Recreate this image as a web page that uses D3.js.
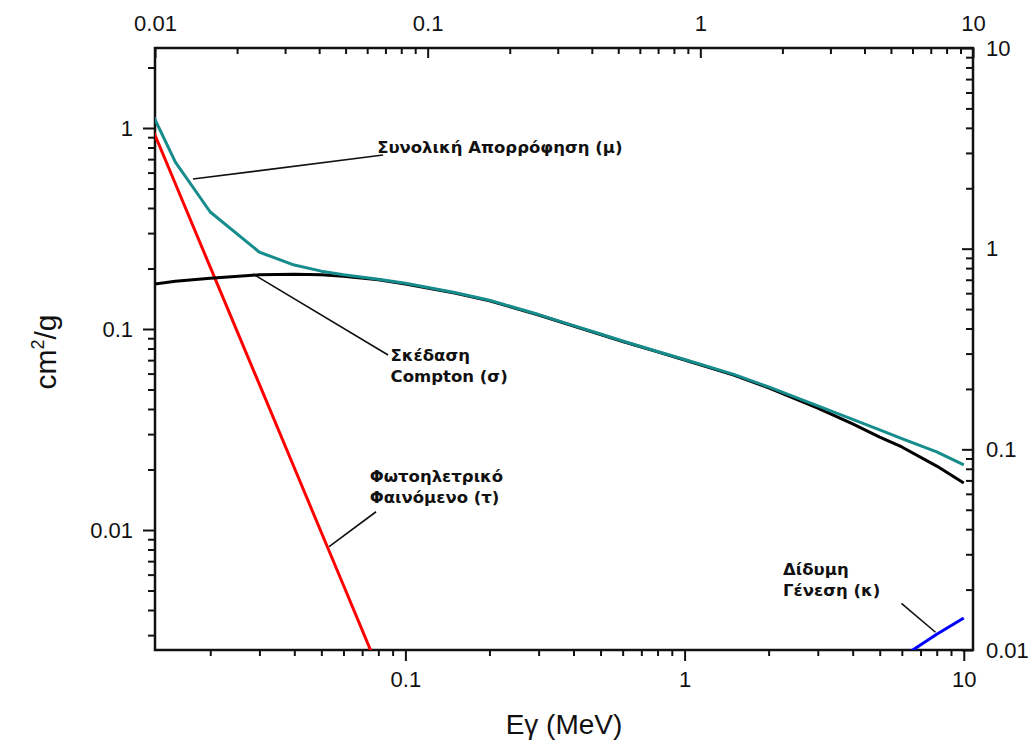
<!DOCTYPE html>
<html>
<head>
<meta charset="utf-8">
<script src="https://cdn.jsdelivr.net/npm/d3@7"></script>
<style>
  body { margin: 0; background: #fff; }
  .tick text { font-family: "Liberation Sans", Arial, sans-serif; font-size: 22px; fill: #111; }
  .note { font-family: "DejaVu Sans", Verdana, sans-serif; font-weight: bold; font-size: 16.5px; fill: #111; }
</style>
</head>
<body>
<div id="chart"></div>
<script>
// energies (MeV)
var energy = [0.01, 0.015, 0.02, 0.03, 0.04, 0.05, 0.06, 0.08, 0.1, 0.15, 0.2, 0.3, 0.4, 0.5, 0.6, 0.8, 1, 1.5, 2, 3, 4, 5, 6, 8, 10];
// total absorption (mu), cm2/g
var total = [2.2, 0.677, 0.382, 0.241, 0.208, 0.194, 0.186, 0.177, 0.169, 0.152, 0.139, 0.118, 0.104, 0.0945, 0.0872, 0.0773, 0.0705, 0.0595, 0.0515, 0.0415, 0.0355, 0.0315, 0.0285, 0.0245, 0.0211];
// compton scattering (sigma)
var compton = [0.160, 0.173, 0.179, 0.186, 0.187, 0.186, 0.183, 0.176, 0.1675, 0.151, 0.138, 0.1174, 0.1035, 0.0939, 0.0867, 0.0769, 0.0701, 0.059, 0.0509, 0.0404, 0.0337, 0.029, 0.0259, 0.0208, 0.01714];
// photoelectric (tau)
var photoEnergy = [0.01, 0.015, 0.02, 0.03, 0.04, 0.05, 0.06, 0.08];
var photo = [2.03, 0.528, 0.203, 0.053, 0.0204, 0.00972, 0.00531, 0.00204];
// pair production (kappa)
var pairEnergy = [5, 6, 8, 10];
var pair = [0.0019, 0.00233, 0.00303, 0.00365];

var majorTicks = [0.01, 0.1, 1, 10];
var leftMajor = [0.01, 0.1, 1];

var svgWidth = 1035;
var svgHeight = 747;
var plotLeft = 155, plotRight = 973, plotTop = 48, plotBottom = 650;

// minor ticks 2..9 for every decade
function minors(lo, hi) {
  var out = [];
  for (var p = lo; p < hi; p++) {
    for (var k = 2; k <= 9; k++) out.push(+(k * Math.pow(10, p)).toPrecision(3));
  }
  return out;
}

var x = d3.scaleLog().domain([0.01268, 10.79]).range([plotLeft, plotRight]);
var xTop = d3.scaleLog().domain([0.01, 10]).range([plotLeft, plotRight]);
var y = d3.scaleLog().domain([0.00253, 2.5]).range([plotBottom, plotTop]);
var yRight = d3.scaleLog().domain([0.01, 10]).range([plotBottom, plotTop]);

var svg = d3.select('#chart')
  .append('svg')
  .attr('width', svgWidth)
  .attr('height', svgHeight);

var fmt = function(d) { return String(d); };

// bottom axis
svg.append('g').attr('transform', 'translate(0,' + plotBottom + ')')
  .call(d3.axisBottom(x).tickValues(minors(-2, 1).filter(function(d) { return d >= 0.0127 && d <= 10.7; })).tickFormat('').tickSize(6).tickSizeOuter(0));
svg.append('g').attr('transform', 'translate(0,' + plotBottom + ')')
  .call(d3.axisBottom(x).tickValues([0.1, 1, 10]).tickFormat(fmt).tickSize(11).tickPadding(10).tickSizeOuter(0));

// top axis, ticks inward
svg.append('g').attr('transform', 'translate(0,' + plotTop + ')')
  .call(d3.axisTop(xTop).tickValues(minors(-2, 1)).tickFormat('').tickSize(-6).tickSizeOuter(0));
svg.append('g').attr('transform', 'translate(0,' + plotTop + ')')
  .call(d3.axisTop(xTop).tickValues(majorTicks).tickFormat(fmt).tickSize(-10).tickPadding(17).tickSizeOuter(0));

// left axis
svg.append('g').attr('transform', 'translate(' + plotLeft + ',0)')
  .call(d3.axisLeft(y).tickValues(minors(-3, 1).filter(function(d) { return d >= 0.0026 && d <= 2.4; })).tickFormat('').tickSize(7).tickSizeOuter(0));
svg.append('g').attr('transform', 'translate(' + plotLeft + ',0)')
  .call(d3.axisLeft(y).tickValues(leftMajor).tickFormat(fmt).tickSize(12).tickPadding(10).tickSizeOuter(0));

// right axis, ticks inward
svg.append('g').attr('transform', 'translate(' + plotRight + ',0)')
  .call(d3.axisRight(yRight).tickValues(minors(-2, 1)).tickFormat('').tickSize(-7).tickSizeOuter(0));
svg.append('g').attr('transform', 'translate(' + plotRight + ',0)')
  .call(d3.axisRight(yRight).tickValues(majorTicks).tickFormat(fmt).tickSize(-11).tickPadding(13).tickSizeOuter(0));

svg.selectAll('.domain').remove();
svg.selectAll('.tick line').attr('stroke', '#111').attr('stroke-width', 2);

// frame
svg.append('rect')
  .attr('x', plotLeft).attr('y', plotTop)
  .attr('width', plotRight - plotLeft).attr('height', plotBottom - plotTop)
  .attr('fill', 'none').attr('stroke', '#111').attr('stroke-width', 2.5);

// axis titles
svg.append('text')
  .attr('x', (plotLeft + plotRight) / 2).attr('y', 734)
  .attr('text-anchor', 'middle')
  .style('font-family', '"Liberation Sans", Arial, sans-serif').style('font-size', '28px').style('fill', '#111')
  .text('Eγ (MeV)');

var yTitle = svg.append('text')
  .attr('transform', 'translate(56,352) rotate(-90)')
  .attr('text-anchor', 'middle')
  .style('font-family', '"Liberation Sans", Arial, sans-serif').style('font-size', '30px').style('fill', '#111');
yTitle.append('tspan').text('cm');
yTitle.append('tspan').attr('dy', -12).style('font-size', '18px').text('2');
yTitle.append('tspan').attr('dy', 12).text('/g');

// curves
svg.append('clipPath').attr('id', 'plot')
  .append('rect').attr('x', plotLeft).attr('y', plotTop).attr('width', plotRight - plotLeft).attr('height', plotBottom - plotTop);

var line = d3.line()
  .x(function(d) { return x(d[0]); })
  .y(function(d) { return y(d[1]); });

function series(xs, ys, color) {
  svg.append('path')
    .datum(d3.zip(xs, ys))
    .attr('clip-path', 'url(#plot)')
    .attr('d', line)
    .attr('fill', 'none')
    .attr('stroke', color)
    .attr('stroke-width', 3)
    .attr('stroke-linejoin', 'round');
}

series(photoEnergy, photo, '#ff0000');
series(pairEnergy, pair, '#0000ff');
series(energy, compton, '#000000');
series(energy, total, '#178c8c');

// annotations: leader lines in data units, labels
var notes = [
  { from: [0.01734, 0.557], to: [0.0832, 0.734], at: [0.0792, 0.751], lines: ['Συνολική Απορρόφηση (μ)'] },
  { from: [0.02845, 0.1878], to: [0.0867, 0.0742], at: [0.0885, 0.0695], lines: ['Σκέδαση', 'Compton (σ)'] },
  { from: [0.0533, 0.00826], to: [0.0785, 0.01233], at: [0.0745, 0.0174], lines: ['Φωτοηλετρικό', 'Φαινόμενο (τ)'] },
  { from: [7.92, 0.0031], to: [5.98, 0.00432], at: [2.253, 0.00597], lines: ['Δίδυμη', 'Γένεση (κ)'] }
];

notes.forEach(function(n) {
  svg.append('line')
    .attr('x1', x(n.from[0])).attr('y1', y(n.from[1]))
    .attr('x2', x(n.to[0])).attr('y2', y(n.to[1]))
    .attr('stroke', '#111').attr('stroke-width', 1.6);
  var t = svg.append('text').attr('class', 'note')
    .attr('x', x(n.at[0])).attr('y', y(n.at[1]));
  n.lines.forEach(function(s, i) {
    t.append('tspan').attr('x', x(n.at[0])).attr('dy', i ? 21 : 0).text(s);
  });
});
</script>
</body>
</html>
